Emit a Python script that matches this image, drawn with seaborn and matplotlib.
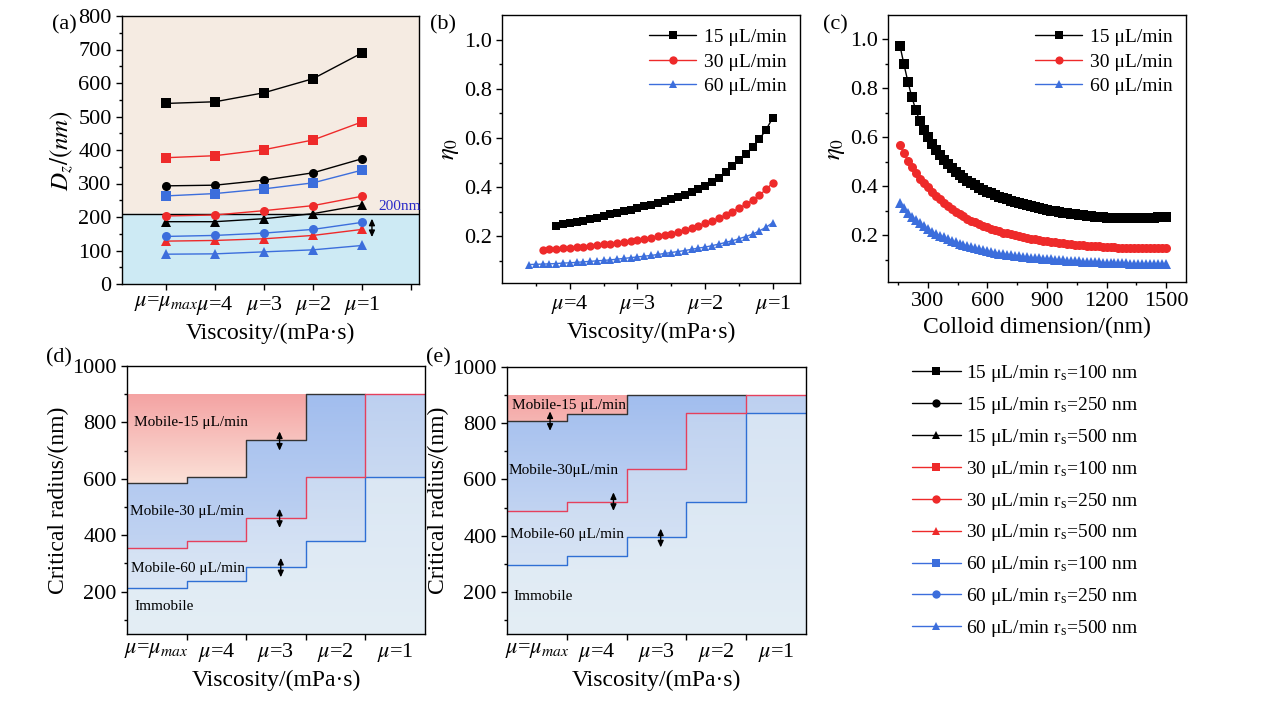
import numpy as np
import matplotlib
matplotlib.use("Agg")
import matplotlib.pyplot as plt
from matplotlib.lines import Line2D
from matplotlib.colors import LinearSegmentedColormap
import seaborn as sns

# ---------------- data ----------------
# (a) drainage diameter vs viscosity
visc_pos = [1, 2, 3, 4, 5]
visc_labels = [r"$\mu$=$\mu_{max}$", r"$\mu$=4", r"$\mu$=3", r"$\mu$=2", r"$\mu$=1"]
dz_15_100 = [539, 544, 571, 613, 690]
dz_15_250 = [293, 295, 310, 332, 374]
dz_15_500 = [186, 186, 195, 210, 236]
dz_30_100 = [377, 383, 401, 430, 484]
dz_30_250 = [203, 206, 219, 234, 262]
dz_30_500 = [128, 130, 135, 145, 163]
dz_60_100 = [263, 270, 284, 302, 340]
dz_60_250 = [142, 145, 152, 163, 184]
dz_60_500 = [89, 90, 96, 102, 115]

# (b) eta0 vs viscosity
b_x15 = [4.2, 4.1, 4.0, 3.9, 3.8, 3.7, 3.6, 3.5, 3.4, 3.3, 3.2, 3.1, 3.0, 2.9, 2.8, 2.7, 2.6,
         2.5, 2.4, 2.3, 2.2, 2.1, 2.0, 1.9, 1.8, 1.7, 1.6, 1.5, 1.4, 1.3, 1.2, 1.1, 1.0]
b_y15 = [.242, .248, .253, .258, .264, .270, .276, .282, .289, .295, .302, .308, .315, .322,
         .329, .336, .344, .352, .360, .369, .380, .392, .405, .421, .439, .460, .484, .509,
         .535, .563, .595, .634, .683]
b_x30 = [4.4, 4.3, 4.2, 4.1, 4.0, 3.9, 3.8, 3.7, 3.6, 3.5, 3.4, 3.3, 3.2, 3.1, 3.0, 2.9, 2.8,
         2.7, 2.6, 2.5, 2.4, 2.3, 2.2, 2.1, 2.0, 1.9, 1.8, 1.7, 1.6, 1.5, 1.4, 1.3, 1.2, 1.1, 1.0]
b_y30 = [.146, .148, .150, .152, .154, .156, .158, .161, .164, .167, .170, .173, .177, .181,
         .186, .190, .195, .200, .205, .211, .218, .225, .233, .242, .252, .262, .273, .286,
         .300, .314, .330, .347, .367, .391, .418]
b_x60 = [4.6, 4.5, 4.4, 4.3, 4.2, 4.1, 4.0, 3.9, 3.8, 3.7, 3.6, 3.5, 3.4, 3.3, 3.2, 3.1, 3.0,
         2.9, 2.8, 2.7, 2.6, 2.5, 2.4, 2.3, 2.2, 2.1, 2.0, 1.9, 1.8, 1.7, 1.6, 1.5, 1.4, 1.3,
         1.2, 1.1, 1.0]
b_y60 = [.085, .086, .087, .088, .089, .091, .092, .094, .096, .098, .100, .102, .104, .107,
         .110, .113, .116, .119, .122, .126, .130, .134, .138, .142, .147, .152, .156, .162,
         .168, .175, .182, .190, .199, .209, .222, .237, .256]

# (c) eta0 vs colloid dimension
c_x = [160, 180, 200, 220, 240, 260, 280, 300, 320, 340, 360, 380, 400, 420, 440, 460, 480,
       500, 520, 540, 560, 580, 600, 620, 640, 660, 680, 700, 720, 740, 760, 780, 800, 820,
       840, 860, 880, 900, 920, 940, 960, 980, 1000, 1020, 1040, 1060, 1080, 1100, 1120,
       1140, 1160, 1180, 1200, 1220, 1240, 1260, 1280, 1300, 1320, 1340, 1360, 1380, 1400,
       1420, 1440, 1460, 1480, 1500]
c_y15 = [.975, .900, .828, .765, .712, .667, .630, .600, .574, .550,
         .528, .508, .490, .474, .460, .447, .435, .424, .414, .404,
         .395, .387, .379, .372, .365, .359, .353, .347, .342, .337,
         .332, .327, .323, .319, .315, .311, .307, .304, .301, .298,
         .295, .292, .290, .288, .286, .284, .282, .280, .278, .276,
         .275, .274, .273, .272, .271, .270, .270, .270, .270, .270,
         .270, .271, .271, .272, .273, .274, .275, .276]
c_y30 = [.571, .535, .505, .478, .454, .432, .413, .396, .378, .362,
         .347, .333, .320, .308, .297, .287, .278, .269, .261, .253,
         .246, .239, .233, .227, .222, .217, .212, .208, .204, .200,
         .196, .193, .190, .187, .184, .181, .178, .176, .174, .172,
         .170, .168, .166, .164, .163, .161, .160, .158, .157, .156,
         .155, .154, .153, .152, .151, .150, .150, .149, .149, .148,
         .148, .147, .147, .147, .147, .147, .147, .147]
c_y60 = [.334, .312, .293, .277, .262, .249, .237, .226, .216, .207,
         .199, .192, .185, .178, .172, .166, .161, .156, .151, .147,
         .143, .139, .135, .132, .129, .126, .123, .121, .119, .117,
         .115, .113, .111, .109, .107, .106, .104, .103, .102, .100,
         .099, .098, .097, .096, .095, .094, .093, .092, .091, .090,
         .090, .089, .088, .088, .087, .087, .086, .086, .085, .085,
         .084, .084, .084, .083, .083, .083, .082, .082]

# (d)/(e) critical radius per viscosity interval
step_edges = [0, 1, 2, 3, 4, 5]
d_r15 = [584, 606, 738, 900, 900]
d_r30 = [356, 379, 460, 607, 900]
d_r60 = [212, 238, 287, 379, 606]
e_r15 = [807, 833, 900, 900, 900]
e_r30 = [488, 521, 636, 835, 900]
e_r60 = [296, 326, 396, 521, 835]
step_labels = [r"$\mu$=$\mu_{max}$", r"$\mu$=4", r"$\mu$=3", r"$\mu$=2", r"$\mu$=1"]

rate_labels = ["15 \u03bcL/min", "30 \u03bcL/min", "60 \u03bcL/min"]

# ---------------- style ----------------
sns.set_style("ticks", {"axes.edgecolor": "black", "xtick.color": "black",
                        "ytick.color": "black", "text.color": "black",
                        "axes.labelcolor": "black"})
plt.rcParams["font.family"] = ["Liberation Serif", "DejaVu Serif"]
plt.rcParams["mathtext.fontset"] = "stix"
plt.rcParams["axes.linewidth"] = 1.0
plt.rcParams["xtick.major.size"] = 4
plt.rcParams["ytick.major.size"] = 4
plt.rcParams["xtick.minor.size"] = 2.5
plt.rcParams["ytick.minor.size"] = 2.5

BLACK = "#000000"
RED = "#ee2a2a"
BLUE = "#3c6edc"
FS_TICK = 16
FS_LAB = 17
ARROW = dict(arrowstyle="<|-|>,head_length=0.55,head_width=0.25", color="black", lw=1.0,
             mutation_scale=7, shrinkA=0, shrinkB=0)

fig = plt.figure(figsize=(12.69, 7.05), dpi=100)
W, H = 1269, 705


def add_ax(l, t, r, b):
    return fig.add_axes([l / W, 1 - b / H, (r - l) / W, (b - t) / H])


ax_a = add_ax(122, 16, 419, 284)
ax_b = add_ax(502, 15, 800, 283)
ax_c = add_ax(888, 15, 1186, 282)
ax_d = add_ax(127, 366, 425, 634)
ax_e = add_ax(507, 367, 806, 634)

# ---------------- (a) ----------------
ax_a.axhspan(210, 800, color="#f5ebe2", zorder=0)
ax_a.axhspan(0, 210, color="#cdeaf4", zorder=0)
ax_a.axhline(210, color="black", lw=1.0, zorder=1)
series_a = [
    (dz_15_100, BLACK, "s"), (dz_15_250, BLACK, "o"), (dz_15_500, BLACK, "^"),
    (dz_30_100, RED, "s"), (dz_30_250, RED, "o"), (dz_30_500, RED, "^"),
    (dz_60_100, BLUE, "s"), (dz_60_250, BLUE, "o"), (dz_60_500, BLUE, "^"),
]
for vals, col, mk in series_a:
    sns.lineplot(x=visc_pos, y=vals, color=col, marker=mk, markersize=6.5,
                 markeredgewidth=0, linewidth=1.0, ax=ax_a, zorder=3)
ax_a.text(5.33, 212, "200nm", color="#2a2ac8", fontsize=11, va="bottom", ha="left")
ax_a.annotate("", xy=(5.2, 140), xytext=(5.2, 195), arrowprops=ARROW)
ax_a.set_xlim(0.1, 6.16)
ax_a.set_ylim(0, 800)
ax_a.set_xticks([1, 2, 3, 4, 5, 6], visc_labels + [""])
ax_a.set_yticks(range(0, 801, 100))
ax_a.set_yticks(range(50, 800, 100), minor=True)
ax_a.set_ylabel(r"$D_z/(nm)$", fontsize=FS_LAB + 1, labelpad=2)
ax_a.set_xlabel("Viscosity/(mPa\u00b7s)", fontsize=FS_LAB, labelpad=4)

# ---------------- (b) ----------------
for xs, ys, col, mk, lab in [(b_x15, b_y15, BLACK, "s", rate_labels[0]),
                             (b_x30, b_y30, RED, "o", rate_labels[1]),
                             (b_x60, b_y60, BLUE, "^", rate_labels[2])]:
    sns.lineplot(x=xs, y=ys, color=col, marker=mk, markersize=6, markeredgewidth=0,
                 linewidth=1.0, sort=False, ax=ax_b, label=lab)
ax_b.set_xlim(5.0, 0.6)
ax_b.set_ylim(0.01, 1.1)
ax_b.set_xticks([4, 3, 2, 1], visc_labels[1:])
ax_b.set_xticks([4.5, 3.5, 2.5, 1.5], minor=True)
ax_b.set_yticks([0.2, 0.4, 0.6, 0.8, 1.0], ["0.2", "0.4", "0.6", "0.8", "1.0"])
ax_b.set_yticks([0.1, 0.3, 0.5, 0.7, 0.9], minor=True)
ax_b.set_ylabel(r"$\eta_{\mathit{0}}$", fontsize=FS_LAB + 1, labelpad=2)
ax_b.set_xlabel("Viscosity/(mPa\u00b7s)", fontsize=FS_LAB, labelpad=4)

# ---------------- (c) ----------------
for ys, col, mk, lab in [(c_y15, BLACK, "s", rate_labels[0]),
                         (c_y30, RED, "o", rate_labels[1]),
                         (c_y60, BLUE, "^", rate_labels[2])]:
    sns.lineplot(x=c_x, y=ys, color=col, marker=mk, markersize=6.5, markeredgewidth=0,
                 linewidth=1.0, ax=ax_c, label=lab)
ax_c.set_xlim(100, 1600)
ax_c.set_ylim(0.01, 1.1)
ax_c.set_xticks([300, 600, 900, 1200, 1500])
ax_c.set_xticks([150, 450, 750, 1050, 1350], minor=True)
ax_c.set_yticks([0.2, 0.4, 0.6, 0.8, 1.0], ["0.2", "0.4", "0.6", "0.8", "1.0"])
ax_c.set_yticks([0.1, 0.3, 0.5, 0.7, 0.9], minor=True)
ax_c.set_ylabel(r"$\eta_{\mathit{0}}$", fontsize=FS_LAB + 1, labelpad=2)
ax_c.set_xlabel("Colloid dimension/(nm)", fontsize=FS_LAB, labelpad=4)

for ax, mscale in ((ax_b, 1.0), (ax_c, 0.9)):
    ax.legend(loc="upper right", frameon=False, fontsize=14, handlelength=2.4,
              handletextpad=0.4, labelspacing=0.35, borderaxespad=0.3,
              markerscale=mscale)


# ---------------- (d) and (e) ----------------
def grad_fill(ax, lo, hi, c_bot, c_top, y0, y1, z):
    poly = ax.fill_between(step_edges, lo + [lo[-1]], hi + [hi[-1]], step="post",
                           color="none", lw=0)
    cmap = LinearSegmentedColormap.from_list("g", [c_bot, c_top])
    grad = np.linspace(0, 1, 256).reshape(-1, 1)
    im = ax.imshow(grad, cmap=cmap, extent=(0, 5, y0, y1), origin="lower",
                   aspect="auto", zorder=z, interpolation="bilinear")
    im.set_clip_path(poly.get_paths()[0], transform=ax.transData)


def step_panel(ax, r15, r30, r60, texts, arrows, blue_lo):
    top = [900] * 5
    bottom = [50] * 5
    grad_fill(ax, r15, top, "#fce6dc", "#f4a3a3", 560, 900, 0.5)
    grad_fill(ax, r30, r15, "#c2d4f2", "#a1bdee", blue_lo, 900, 0.5)
    grad_fill(ax, r60, r30, "#dde8f5", "#bdd0f0", 150, 900, 0.5)
    grad_fill(ax, bottom, r60, "#e4eef5", "#d6e3f3", 50, 900, 0.5)
    sns.lineplot(x=step_edges[:5], y=r15[:4] + [r15[3]], drawstyle="steps-post",
                 color="#333333", linewidth=1.0, ax=ax)
    sns.lineplot(x=step_edges, y=r60 + [r60[-1]], drawstyle="steps-post",
                 color="#2f6fd4", linewidth=1.0, ax=ax)
    sns.lineplot(x=step_edges, y=r30 + [r30[-1]], drawstyle="steps-post",
                 color="#e5405c", linewidth=1.0, ax=ax)
    for tx, ty, s in texts:
        ax.text(tx, ty, s, fontsize=11, va="center", ha="left")
    for ax_x, ya, yb in arrows:
        ax.annotate("", xy=(ax_x, yb), xytext=(ax_x, ya), arrowprops=ARROW)
    ax.set_xlim(0, 5)
    ax.set_ylim(50, 1000)
    ax.set_xticks([1, 2, 3, 4], ["", "", "", ""])
    ax.set_xticks([0.5, 1.5, 2.5, 3.5, 4.5], step_labels, minor=True)
    ax.tick_params(axis="x", which="minor", length=0, pad=5)
    ax.set_yticks([200, 400, 600, 800, 1000])
    ax.set_yticks([100, 300, 500, 700, 900], minor=True)
    ax.set_ylabel("Critical radius/(nm)", fontsize=FS_LAB, labelpad=2)
    ax.set_xlabel("Viscosity/(mPa\u00b7s)", fontsize=FS_LAB, labelpad=4)


step_panel(ax_d, d_r15, d_r30, d_r60,
           [(0.12, 800, "Mobile-15 \u03bcL/min"), (0.05, 483, "Mobile-30 \u03bcL/min"),
            (0.07, 283, "Mobile-60 \u03bcL/min"), (0.12, 146, "Immobile")],
           [(2.56, 768, 700), (2.56, 494, 426), (2.58, 320, 251)], 350)
step_panel(ax_e, e_r15, e_r30, e_r60,
           [(0.09, 864, "Mobile-15 \u03bcL/min"), (0.03, 633, "Mobile-30\u03bcL/min"),
            (0.05, 405, "Mobile-60 \u03bcL/min"), (0.1, 182, "Immobile")],
           [(0.72, 842, 773), (1.78, 554, 488), (2.57, 425, 358)], 480)

for ax in (ax_a, ax_b, ax_c, ax_d, ax_e):
    ax.tick_params(which="both", direction="out", labelsize=FS_TICK, width=1.0,
                   top=False, right=False)
    for sp in ax.spines.values():
        sp.set_visible(True)
        sp.set_color("black")
        sp.set_linewidth(1.0)

# panel letters
for x, y, s in [(52, 25, "(a)"), (430, 25, "(b)"), (823, 25, "(c)"),
                (46, 358, "(d)"), (426, 358, "(e)")]:
    fig.text(x / W, 1 - y / H, s, fontsize=16, va="center", ha="left")

# ---------------- shared legend ----------------
handles = []
labels = []
for col, rate in [(BLACK, "15"), (RED, "30"), (BLUE, "60")]:
    for mk, rs in [("s", "100"), ("o", "250"), ("^", "500")]:
        handles.append(Line2D([0], [0], color=col, marker=mk, markersize=6,
                              markeredgewidth=0, linewidth=1.0))
        labels.append(rate + " \u03bcL/min r$_{\\mathregular{s}}$=" + rs + " nm")
fig.legend(handles, labels, loc="upper left", bbox_to_anchor=(912 / W, 1 - 363 / H),
           frameon=False, fontsize=14, handlelength=2.5, handletextpad=0.3,
           labelspacing=0.56, borderpad=0, borderaxespad=0)

fig.savefig("out.png", dpi=100)
